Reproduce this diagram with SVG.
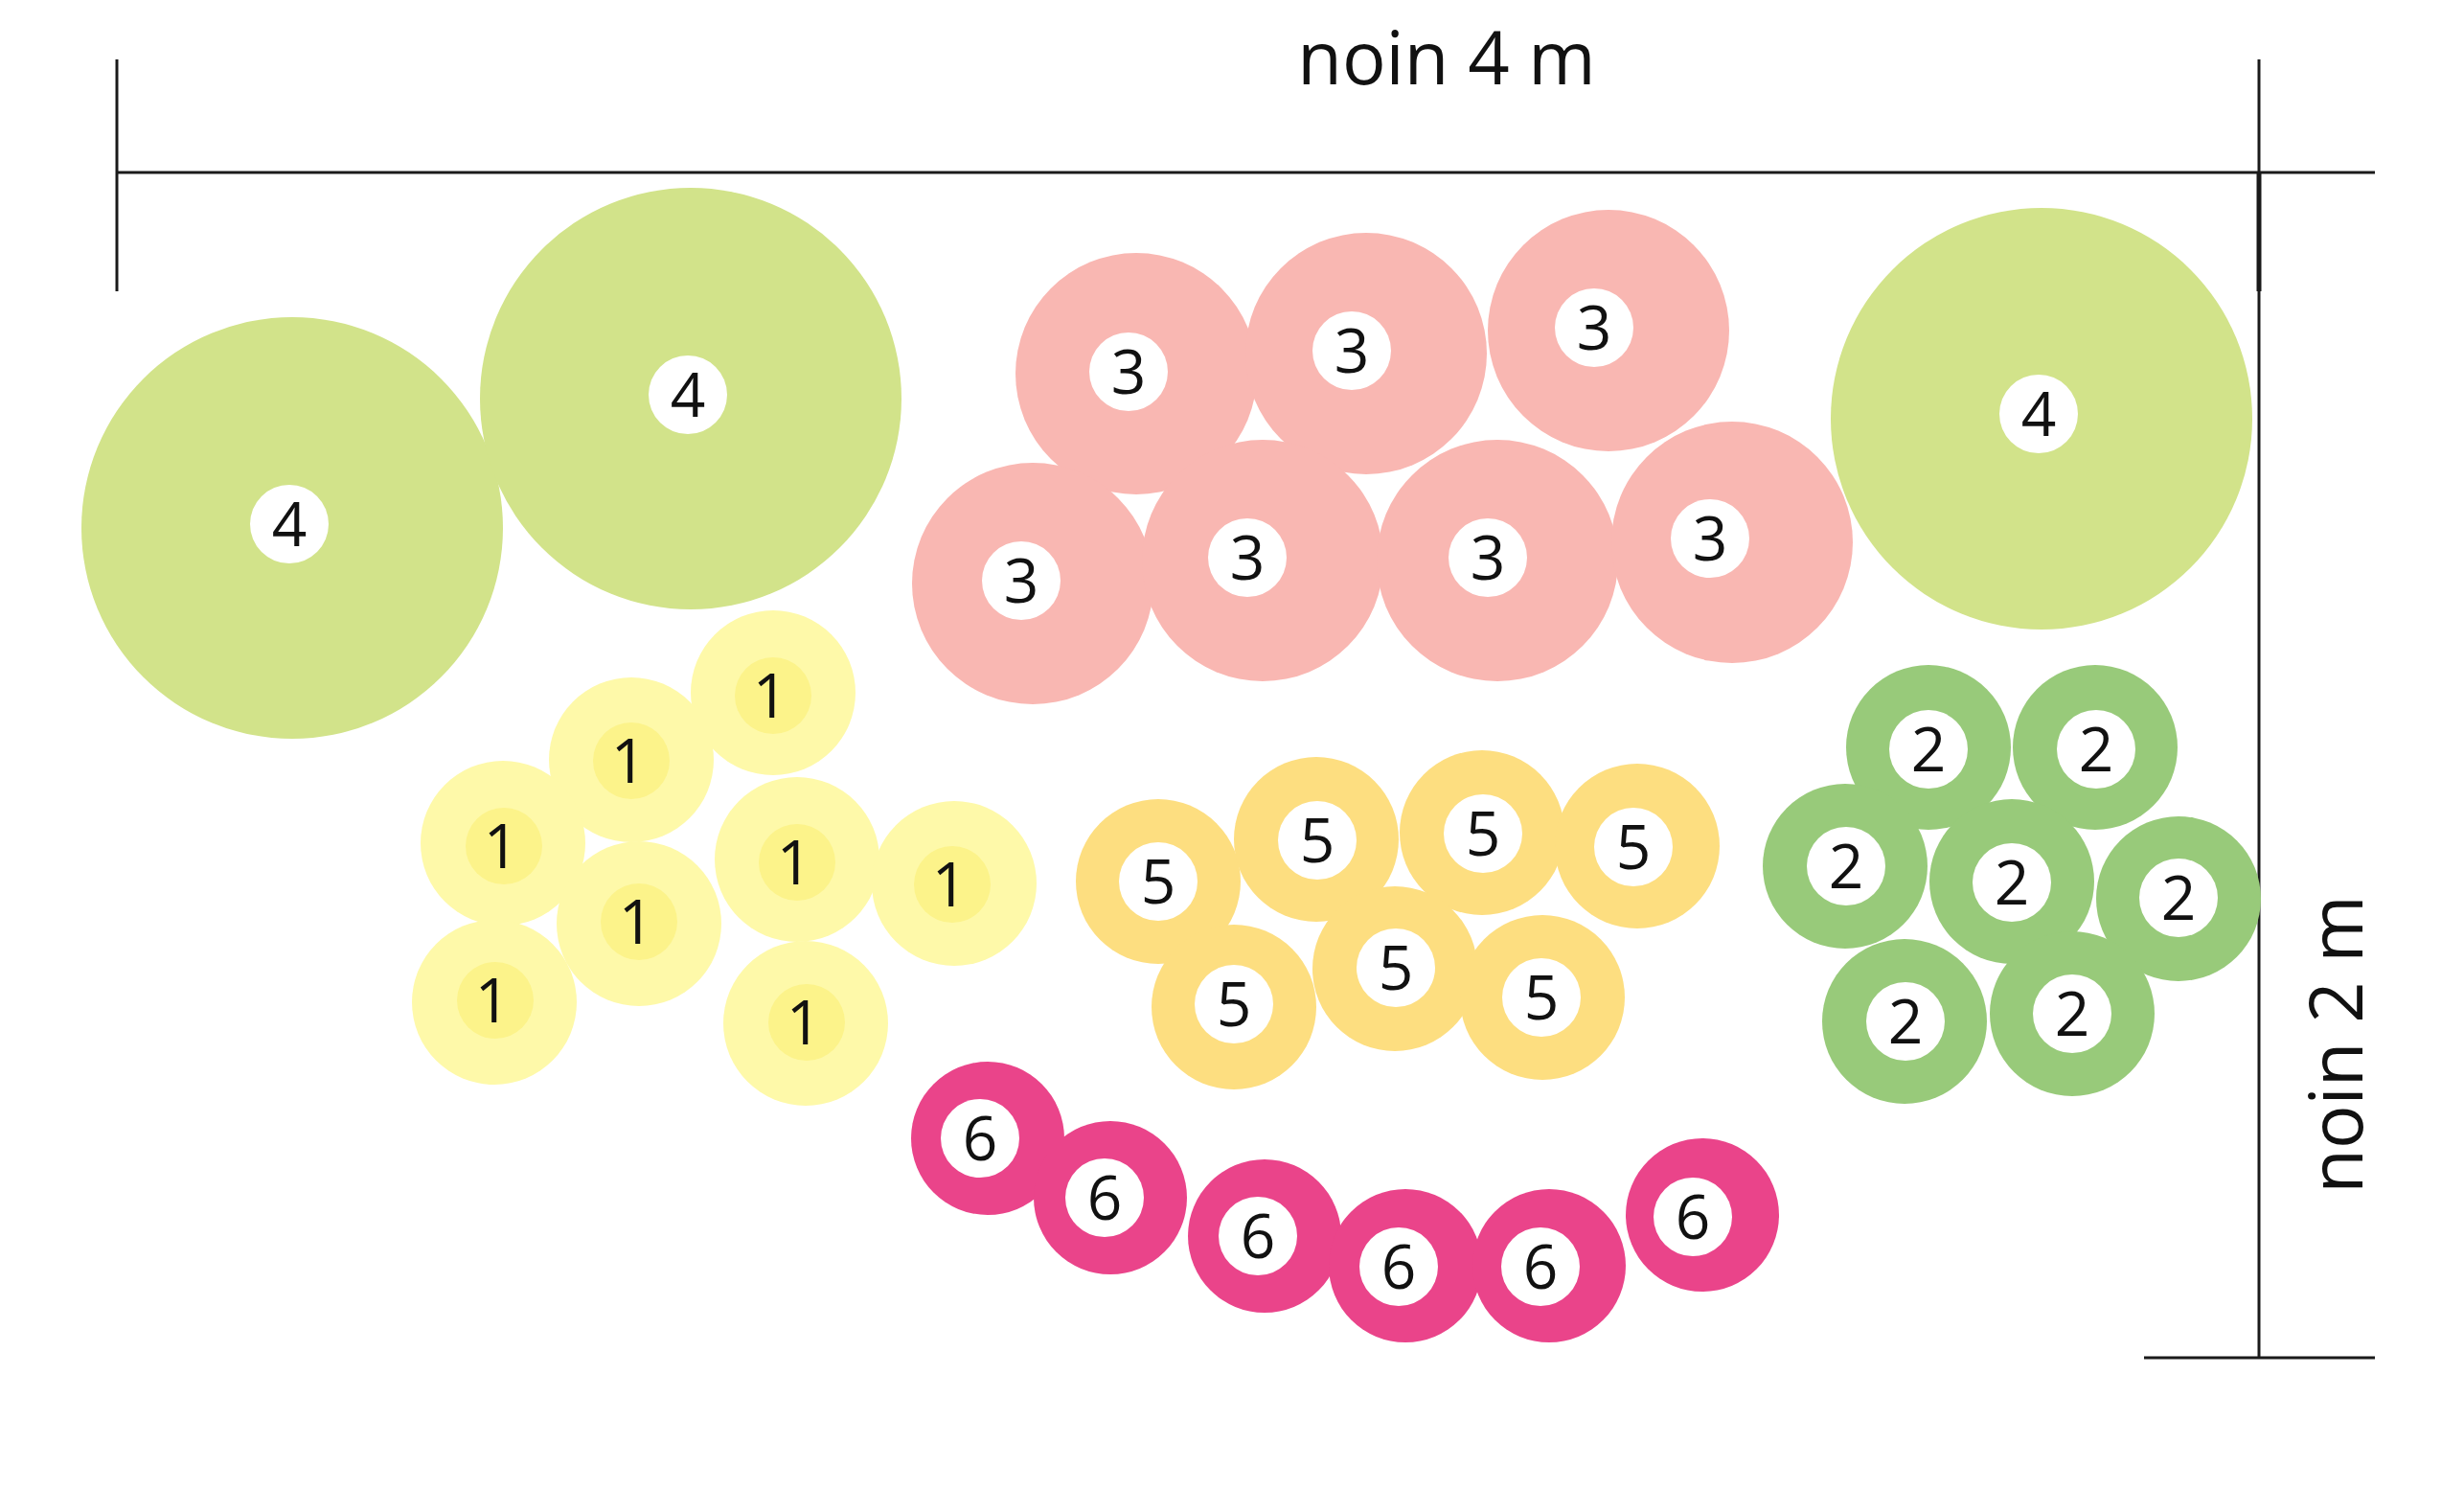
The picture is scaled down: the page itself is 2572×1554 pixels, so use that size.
<svg xmlns="http://www.w3.org/2000/svg" width="2572" height="1554" viewBox="0 0 2572 1554">
<style>
.lbl{font-family:"Open Sans","Liberation Sans",sans-serif;font-size:64px;font-weight:500;fill:#111;text-anchor:middle}
.dim{font-family:"Open Sans","Liberation Sans",sans-serif;font-size:76px;font-weight:500;fill:#111;text-anchor:middle}
.ln{stroke:#1a1a1a;stroke-width:3;fill:none}
.lime{fill:#d2e38a}.pink{fill:#f9b7b2}.yel{fill:#fef9a9}.yin{fill:#fcf38a}
.ora{fill:#fdde80}.grn{fill:#98ca7a}.mag{fill:#ea448a}.w{fill:#fff}
</style>
<rect width="2572" height="1554" fill="#fff"/>
<g id="dimensions">
<line class="ln" x1="122" y1="180" x2="2479" y2="180"/>
<line class="ln" x1="122" y1="62" x2="122" y2="304"/>
<line class="ln" x1="2358" y1="62" x2="2358" y2="1418"/>
<line stroke="#1a1a1a" stroke-width="5" x1="2358" y1="180" x2="2358" y2="304"/>
<line class="ln" x1="2238" y1="1417" x2="2479" y2="1417"/>
<text class="dim" x="1510" y="88">noin 4 m</text>
<text class="dim" x="2466" y="1090" transform="rotate(-90 2466 1090)">noin 2 m</text>
</g>
<g id="lime">
<g id="l1"><circle class="lime" cx="305" cy="551" r="220"/><circle class="w" cx="302" cy="547" r="41"/><text class="lbl" x="302" y="570">4</text></g>
<g id="l2"><circle class="lime" cx="721" cy="416" r="220"/><circle class="w" cx="718" cy="412" r="41"/><text class="lbl" x="718" y="435">4</text></g>
<g id="l3"><circle class="lime" cx="2131" cy="437" r="220"/><circle class="w" cx="2128" cy="432" r="41"/><text class="lbl" x="2128" y="455">4</text></g>
</g>
<g id="pink">
<g id="p1"><circle class="pink" cx="1186" cy="390" r="126"/><circle class="w" cx="1178" cy="388" r="41"/><text class="lbl" x="1178" y="411">3</text></g>
<g id="p2"><circle class="pink" cx="1426" cy="369" r="126"/><circle class="w" cx="1411" cy="366" r="41"/><text class="lbl" x="1411" y="389">3</text></g>
<g id="p3"><circle class="pink" cx="1679" cy="345" r="126"/><circle class="w" cx="1664" cy="342" r="41"/><text class="lbl" x="1664" y="365">3</text></g>
<g id="p4"><circle class="pink" cx="1078" cy="609" r="126"/><circle class="w" cx="1066" cy="606" r="41"/><text class="lbl" x="1066" y="629">3</text></g>
<g id="p5"><circle class="pink" cx="1318" cy="585" r="126"/><circle class="w" cx="1302" cy="582" r="41"/><text class="lbl" x="1302" y="605">3</text></g>
<g id="p6"><circle class="pink" cx="1563" cy="585" r="126"/><circle class="w" cx="1553" cy="582" r="41"/><text class="lbl" x="1553" y="605">3</text></g>
<g id="p7"><circle class="pink" cx="1808" cy="566" r="126"/><circle class="w" cx="1785" cy="562" r="41"/><text class="lbl" x="1785" y="585">3</text></g>
</g>
<g id="yellow">
<g id="y1"><circle class="yel" cx="807" cy="723" r="86"/><circle class="yin" cx="807" cy="726" r="40"/><text class="lbl" x="804" y="749">1</text></g>
<g id="y2"><circle class="yel" cx="659" cy="793" r="86"/><circle class="yin" cx="659" cy="794" r="40"/><text class="lbl" x="656" y="817">1</text></g>
<g id="y3"><circle class="yel" cx="525" cy="880" r="86"/><circle class="yin" cx="526" cy="883" r="40"/><text class="lbl" x="523" y="906">1</text></g>
<g id="y4"><circle class="yel" cx="667" cy="964" r="86"/><circle class="yin" cx="667" cy="962" r="40"/><text class="lbl" x="664" y="985">1</text></g>
<g id="y5"><circle class="yel" cx="832" cy="897" r="86"/><circle class="yin" cx="832" cy="900" r="40"/><text class="lbl" x="829" y="923">1</text></g>
<g id="y6"><circle class="yel" cx="996" cy="922" r="86"/><circle class="yin" cx="994" cy="923" r="40"/><text class="lbl" x="991" y="946">1</text></g>
<g id="y7"><circle class="yel" cx="516" cy="1046" r="86"/><circle class="yin" cx="517" cy="1044" r="40"/><text class="lbl" x="514" y="1067">1</text></g>
<g id="y8"><circle class="yel" cx="841" cy="1068" r="86"/><circle class="yin" cx="842" cy="1067" r="40"/><text class="lbl" x="839" y="1090">1</text></g>
</g>
<g id="orange">
<g id="o1"><circle class="ora" cx="1209" cy="920" r="86"/><circle class="w" cx="1209" cy="920" r="41"/><text class="lbl" x="1209" y="943">5</text></g>
<g id="o2"><circle class="ora" cx="1374" cy="876" r="86"/><circle class="w" cx="1375" cy="877" r="41"/><text class="lbl" x="1375" y="900">5</text></g>
<g id="o3"><circle class="ora" cx="1547" cy="869" r="86"/><circle class="w" cx="1548" cy="870" r="41"/><text class="lbl" x="1548" y="893">5</text></g>
<g id="o4"><circle class="ora" cx="1709" cy="883" r="86"/><circle class="w" cx="1705" cy="884" r="41"/><text class="lbl" x="1705" y="907">5</text></g>
<g id="o5"><circle class="ora" cx="1288" cy="1051" r="86"/><circle class="w" cx="1288" cy="1048" r="41"/><text class="lbl" x="1288" y="1071">5</text></g>
<g id="o6"><circle class="ora" cx="1456" cy="1011" r="86"/><circle class="w" cx="1457" cy="1010" r="41"/><text class="lbl" x="1457" y="1033">5</text></g>
<g id="o7"><circle class="ora" cx="1610" cy="1041" r="86"/><circle class="w" cx="1609" cy="1041" r="41"/><text class="lbl" x="1609" y="1064">5</text></g>
</g>
<g id="green">
<g id="g1"><circle class="grn" cx="2013" cy="780" r="86"/><circle class="w" cx="2013" cy="782" r="41"/><text class="lbl" x="2013" y="805">2</text></g>
<g id="g2"><circle class="grn" cx="2187" cy="780" r="86"/><circle class="w" cx="2188" cy="782" r="41"/><text class="lbl" x="2188" y="805">2</text></g>
<g id="g3"><circle class="grn" cx="1926" cy="904" r="86"/><circle class="w" cx="1927" cy="904" r="41"/><text class="lbl" x="1927" y="927">2</text></g>
<g id="g4"><circle class="grn" cx="2100" cy="920" r="86"/><circle class="w" cx="2100" cy="921" r="41"/><text class="lbl" x="2100" y="944">2</text></g>
<g id="g5"><circle class="grn" cx="2274" cy="938" r="86"/><circle class="w" cx="2274" cy="937" r="41"/><text class="lbl" x="2274" y="960">2</text></g>
<g id="g6"><circle class="grn" cx="1988" cy="1066" r="86"/><circle class="w" cx="1989" cy="1066" r="41"/><text class="lbl" x="1989" y="1089">2</text></g>
<g id="g7"><circle class="grn" cx="2163" cy="1058" r="86"/><circle class="w" cx="2163" cy="1058" r="41"/><text class="lbl" x="2163" y="1081">2</text></g>
</g>
<g id="magenta">
<g id="m1"><circle class="mag" cx="1031" cy="1188" r="80"/><circle class="w" cx="1023" cy="1188" r="41"/><text class="lbl" x="1023" y="1211">6</text></g>
<g id="m2"><circle class="mag" cx="1159" cy="1250" r="80"/><circle class="w" cx="1153" cy="1250" r="41"/><text class="lbl" x="1153" y="1273">6</text></g>
<g id="m3"><circle class="mag" cx="1320" cy="1290" r="80"/><circle class="w" cx="1313" cy="1290" r="41"/><text class="lbl" x="1313" y="1313">6</text></g>
<g id="m4"><circle class="mag" cx="1467" cy="1321" r="80"/><circle class="w" cx="1460" cy="1322" r="41"/><text class="lbl" x="1460" y="1345">6</text></g>
<g id="m5"><circle class="mag" cx="1617" cy="1321" r="80"/><circle class="w" cx="1608" cy="1322" r="41"/><text class="lbl" x="1608" y="1345">6</text></g>
<g id="m6"><circle class="mag" cx="1777" cy="1268" r="80"/><circle class="w" cx="1767" cy="1270" r="41"/><text class="lbl" x="1767" y="1293">6</text></g>
</g>
</svg>
